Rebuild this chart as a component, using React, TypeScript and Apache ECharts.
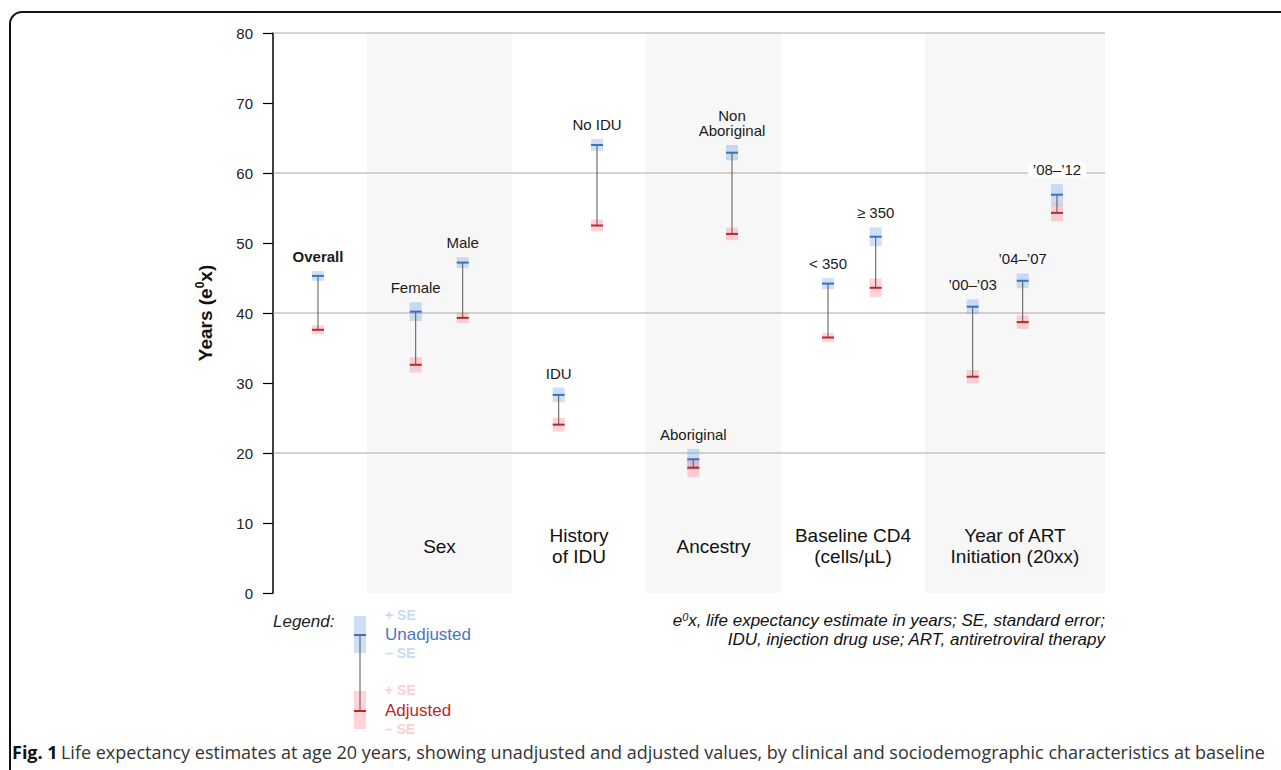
import React, { useEffect, useRef } from "react";
import * as echarts from "echarts";

// ---------- data ----------
const groupNames = ["", "Sex", "History\nof IDU", "Ancestry", "Baseline CD4\n(cells/µL)", "Year of ART\nInitiation (20xx)"];
const groupStart = [0, 94, 239, 373, 508, 652];
const groupEnd = [94, 239, 373, 508, 652, 832];
const groupShaded = [false, true, false, true, false, true];

const pointLabels = ["Overall", "Female", "Male", "IDU", "No IDU", "Aboriginal", "Non\nAboriginal", "< 350", "≥ 350", "’00–’03", "’04–’07", "’08–’12"];
const pointPos = [45, 142.7, 189.7, 285.7, 324, 420.3, 459, 555, 602.7, 699.7, 749.7, 784];
const unadjusted = [45.3, 40.2, 47.2, 28.3, 64.0, 19.1, 62.9, 44.2, 50.9, 40.9, 44.6, 56.9];
const unadjustedSE = [0.7, 1.35, 0.8, 1.05, 0.85, 1.5, 1.1, 0.8, 1.35, 1.05, 1.05, 1.5];
const adjusted = [37.6, 32.6, 39.3, 24.05, 52.5, 17.9, 51.3, 36.5, 43.6, 30.9, 38.7, 54.3];
const adjustedSE = [0.65, 1.1, 0.75, 1.0, 0.85, 1.35, 0.9, 0.65, 1.3, 0.95, 0.95, 1.2];

const gridValues = [20, 40, 60, 80];
const yTicks = { min: 0, max: 80, interval: 10 };

// ---------- styles ----------
const FONT = "Liberation Sans";
const CAP_FONT = "Open Sans";
const BLUE = "#3f6fbf";
const RED = "#c0262a";
const BLUE_BOX = "rgba(100,160,230,0.32)";
const RED_BOX = "rgba(255,110,130,0.3)";
const BAND = "#f7f7f7";

export default function App() {
  const ref = useRef<HTMLDivElement>(null);

  useEffect(() => {
    if (!ref.current) return;
    const chart = echarts.init(ref.current, undefined, { renderer: "svg" });

    const groupData = groupNames.map((_, i) => [groupStart[i], groupEnd[i], groupShaded[i] ? 1 : 0, i]);
    const pointData = pointPos.map((p, i) => [p, unadjusted[i], unadjustedSE[i], adjusted[i], adjustedSE[i], i]);

    const option: any = {
      animation: false,
      backgroundColor: "#ffffff",
      textStyle: { fontFamily: FONT },
      grid: { left: 273, top: 33, width: 832, height: 560 },
      xAxis: { type: "value", min: 0, max: 832, show: false },
      yAxis: {
        type: "value",
        min: yTicks.min,
        max: yTicks.max,
        interval: yTicks.interval,
        splitLine: { show: false },
        axisLine: { show: true, lineStyle: { color: "#000", width: 1.5 } },
        axisTick: { show: true, inside: false, length: 10, lineStyle: { color: "#000", width: 1.2 } },
        axisLabel: { color: "#222", fontSize: 15, fontFamily: FONT, margin: 20 },
        name: "{a|Years (e}{s|0}{a|x)}",
        nameLocation: "middle",
        nameGap: 57,
        nameRotate: 90,
        nameTextStyle: {
          rich: {
            a: { fontSize: 19, fontWeight: "bold", fontFamily: FONT, color: "#111", lineHeight: 22 },
            s: { fontSize: 12, fontWeight: "bold", fontFamily: FONT, color: "#111", lineHeight: 12, verticalAlign: "top" },
          },
        },
      },
      series: [
        {
          type: "custom",
          z: 1,
          silent: true,
          data: groupData,
          encode: { x: [0, 1] },
          renderItem: (params: any, api: any) => {
            const x0 = api.value(0), x1 = api.value(1), shaded = api.value(2), idx = api.value(3);
            const cs = params.coordSys;
            const p0 = api.coord([x0, 0]);
            const p1 = api.coord([x1, 0]);
            const children: any[] = [];
            if (shaded) {
              children.push({ type: "rect", shape: { x: p0[0], y: cs.y, width: p1[0] - p0[0], height: cs.height }, style: { fill: BAND } });
            }
            const name = groupNames[idx];
            if (name) {
              children.push({
                type: "text",
                style: {
                  text: name, x: (p0[0] + p1[0]) / 2, y: cs.y + cs.height - 47,
                  align: "center", verticalAlign: "middle", fontSize: 19, lineHeight: 21,
                  fontFamily: FONT, fill: "#111",
                },
              });
            }
            return { type: "group", children };
          },
        },
        {
          type: "custom",
          z: 2,
          silent: true,
          data: gridValues.map((v) => [0, v]),
          encode: { y: 1 },
          renderItem: (params: any, api: any) => {
            const cs = params.coordSys;
            const y = api.coord([0, api.value(1)])[1];
            return { type: "line", shape: { x1: cs.x, y1: y, x2: cs.x + cs.width, y2: y }, style: { stroke: "#a8a8a8", lineWidth: 1 } };
          },
        },
        {
          type: "custom",
          z: 3,
          silent: true,
          data: pointData,
          encode: { x: 0, y: [1, 3] },
          renderItem: (params: any, api: any) => {
            const pos = api.value(0), u = api.value(1), us = api.value(2), a = api.value(3), as = api.value(4), idx = api.value(5);
            const cx = api.coord([pos, u])[0];
            const uy = api.coord([pos, u])[1];
            const uTop = api.coord([pos, u + us])[1];
            const uBot = api.coord([pos, u - us])[1];
            const ay = api.coord([pos, a])[1];
            const aTop = api.coord([pos, a + as])[1];
            const aBot = api.coord([pos, a - as])[1];
            const w = 12;
            const top = Math.min(uTop, aTop);
            const label = pointLabels[idx];
            const isLast = idx === pointLabels.length - 1;
            return {
              type: "group",
              children: [
                { type: "rect", shape: { x: cx - w / 2, y: uTop, width: w, height: uBot - uTop }, style: { fill: BLUE_BOX } },
                { type: "rect", shape: { x: cx - w / 2, y: aTop, width: w, height: aBot - aTop }, style: { fill: RED_BOX } },
                { type: "line", shape: { x1: cx, y1: uy, x2: cx, y2: ay }, style: { stroke: "#555", lineWidth: 1 } },
                { type: "line", shape: { x1: cx - w / 2, y1: uy, x2: cx + w / 2, y2: uy }, style: { stroke: BLUE, lineWidth: 2 } },
                { type: "line", shape: { x1: cx - w / 2, y1: ay, x2: cx + w / 2, y2: ay }, style: { stroke: RED, lineWidth: 2 } },
                {
                  type: "text",
                  style: {
                    text: label, x: cx, y: top - 7, align: "center", verticalAlign: "bottom",
                    fontSize: 15, lineHeight: 15, fontFamily: FONT,
                    fontWeight: idx === 0 ? "bold" : "normal", fill: "#1a1a1a",
                    backgroundColor: isLast ? "#ffffff" : undefined,
                    padding: isLast ? [0, 5, 0, 5] : 0,
                  },
                },
              ],
            };
          },
        },
      ],
      graphic: [
        { type: "rect", shape: { x: 10, y: 12, width: 1320, height: 820, r: 12 }, style: { fill: "none", stroke: "#111", lineWidth: 2 }, z: 10 },
        // legend
        { type: "text", style: { text: "Legend:", x: 273, y: 621, verticalAlign: "middle", fontSize: 17, fontStyle: "italic", fontFamily: FONT, fill: "#222" } },
        { type: "rect", shape: { x: 354, y: 616, width: 12, height: 37 }, style: { fill: BLUE_BOX } },
        { type: "rect", shape: { x: 354, y: 691, width: 12, height: 38 }, style: { fill: RED_BOX } },
        { type: "line", shape: { x1: 360, y1: 635, x2: 360, y2: 711 }, style: { stroke: "#555", lineWidth: 1 } },
        { type: "line", shape: { x1: 354, y1: 635, x2: 366, y2: 635 }, style: { stroke: BLUE, lineWidth: 2 } },
        { type: "line", shape: { x1: 354, y1: 711, x2: 366, y2: 711 }, style: { stroke: RED, lineWidth: 2 } },
        { type: "text", style: { text: "+ SE", x: 385, y: 615, verticalAlign: "middle", fontSize: 14, fontWeight: "bold", fontFamily: FONT, fill: "#c8dbf4" } },
        { type: "text", style: { text: "Unadjusted", x: 385, y: 634, verticalAlign: "middle", fontSize: 17, fontFamily: FONT, fill: "#4a76c0" } },
        { type: "text", style: { text: "– SE", x: 385, y: 653, verticalAlign: "middle", fontSize: 14, fontWeight: "bold", fontFamily: FONT, fill: "#c8dbf4" } },
        { type: "text", style: { text: "+ SE", x: 385, y: 690, verticalAlign: "middle", fontSize: 14, fontWeight: "bold", fontFamily: FONT, fill: "#ffcdd3" } },
        { type: "text", style: { text: "Adjusted", x: 385, y: 710, verticalAlign: "middle", fontSize: 17, fontFamily: FONT, fill: RED } },
        { type: "text", style: { text: "– SE", x: 385, y: 729, verticalAlign: "middle", fontSize: 14, fontWeight: "bold", fontFamily: FONT, fill: "#ffcdd3" } },
        // footnote
        {
          type: "text",
          style: {
            text: "{i|e}{s|0}{i|x, life expectancy estimate in years; SE, standard error;}\n{i|IDU, injection drug use; ART, antiretroviral therapy}",
            x: 1105, y: 630, align: "right", verticalAlign: "middle", fill: "#111",
            rich: {
              i: { fontSize: 17, fontStyle: "italic", fontFamily: FONT, lineHeight: 19, fill: "#111" },
              s: { fontSize: 11, fontStyle: "italic", fontFamily: FONT, lineHeight: 11, verticalAlign: "top", fill: "#111" },
            },
          },
        },
        // caption
        {
          type: "text",
          style: {
            text: "{b|Fig. 1} {r|Life expectancy estimates at age 20 years, showing unadjusted and adjusted values, by clinical and sociodemographic characteristics at baseline}",
            x: 12, y: 752, verticalAlign: "middle",
            rich: {
              b: { fontSize: 18, fontWeight: "bold", fontFamily: CAP_FONT, fill: "#111" },
              r: { fontSize: 18, fontFamily: CAP_FONT, fill: "#333" },
            },
          },
        },
      ],
    };

    chart.setOption(option);
    return () => chart.dispose();
  }, []);

  return (
    <div
      ref={ref}
      style={{ position: "fixed", left: 0, top: 0, width: 1281, height: 770, background: "#fff" }}
    />
  );
}
